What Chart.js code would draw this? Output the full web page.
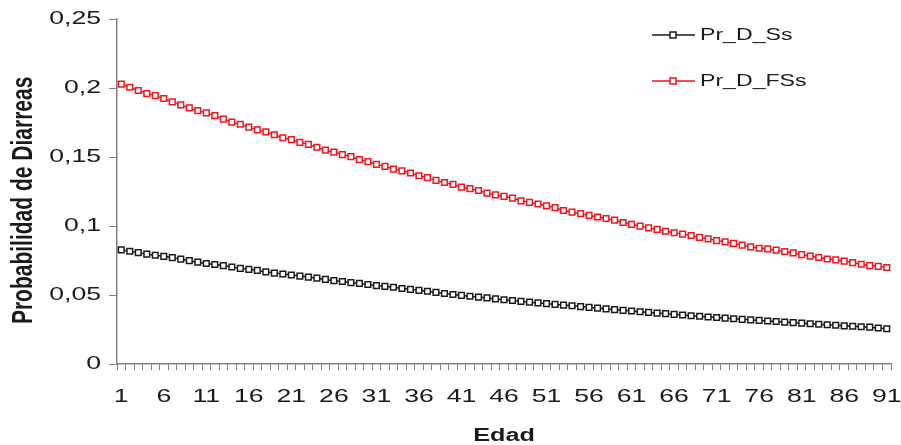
<!DOCTYPE html>
<html>
<head>
<meta charset="utf-8">
<script src="https://cdn.jsdelivr.net/npm/chart.js@4.4.1/dist/chart.umd.min.js"></script>
<style>
  html, body { margin: 0; padding: 0; background: #fff; }
  canvas { display: block; }
</style>
</head>
<body>
<canvas id="myChart" width="901" height="445"></canvas>
<script>
// Edad 1..91
const edades = [
  1, 2, 3, 4, 5, 6, 7, 8, 9, 10,
  11, 12, 13, 14, 15, 16, 17, 18, 19, 20,
  21, 22, 23, 24, 25, 26, 27, 28, 29, 30,
  31, 32, 33, 34, 35, 36, 37, 38, 39, 40,
  41, 42, 43, 44, 45, 46, 47, 48, 49, 50,
  51, 52, 53, 54, 55, 56, 57, 58, 59, 60,
  61, 62, 63, 64, 65, 66, 67, 68, 69, 70,
  71, 72, 73, 74, 75, 76, 77, 78, 79, 80,
  81, 82, 83, 84, 85, 86, 87, 88, 89, 90,
  91
];

// Pr_D_Ss (black)
const prDSs = [
  0.0828, 0.0818, 0.0808, 0.0797, 0.0789, 0.0781, 0.0772, 0.0761, 0.0750, 0.0739,
  0.0729, 0.0722, 0.0714, 0.0704, 0.0694, 0.0687, 0.0679, 0.0669, 0.0660, 0.0653,
  0.0646, 0.0638, 0.0631, 0.0623, 0.0614, 0.0605, 0.0599, 0.0591, 0.0585, 0.0577,
  0.0569, 0.0564, 0.0557, 0.0548, 0.0542, 0.0535, 0.0528, 0.0520, 0.0512, 0.0505,
  0.0498, 0.0492, 0.0486, 0.0480, 0.0473, 0.0467, 0.0461, 0.0455, 0.0449, 0.0444,
  0.0439, 0.0433, 0.0428, 0.0423, 0.0417, 0.0412, 0.0406, 0.0401, 0.0395, 0.0390,
  0.0385, 0.0380, 0.0375, 0.0370, 0.0366, 0.0361, 0.0356, 0.0351, 0.0347, 0.0342,
  0.0338, 0.0334, 0.0329, 0.0325, 0.0321, 0.0317, 0.0313, 0.0309, 0.0305, 0.0301,
  0.0297, 0.0293, 0.0289, 0.0286, 0.0282, 0.0278, 0.0275, 0.0271, 0.0268, 0.0262,
  0.0257
];

// Pr_D_FSs (red)
const prDFSs = [
  0.2028, 0.2006, 0.1982, 0.1960, 0.1945, 0.1924, 0.1900, 0.1878, 0.1856, 0.1836,
  0.1820, 0.1800, 0.1775, 0.1753, 0.1738, 0.1717, 0.1697, 0.1682, 0.1662, 0.1640,
  0.1626, 0.1607, 0.1592, 0.1571, 0.1550, 0.1536, 0.1518, 0.1503, 0.1482, 0.1467,
  0.1447, 0.1433, 0.1413, 0.1400, 0.1385, 0.1365, 0.1351, 0.1331, 0.1316, 0.1302,
  0.1282, 0.1271, 0.1258, 0.1239, 0.1226, 0.1215, 0.1203, 0.1183, 0.1172, 0.1160,
  0.1147, 0.1134, 0.1113, 0.1101, 0.1090, 0.1078, 0.1066, 0.1055, 0.1043, 0.1026,
  0.1013, 0.1000, 0.0987, 0.0976, 0.0963, 0.0952, 0.0942, 0.0932, 0.0918, 0.0908,
  0.0895, 0.0886, 0.0875, 0.0862, 0.0850, 0.0840, 0.0835, 0.0826, 0.0816, 0.0806,
  0.0793, 0.0783, 0.0773, 0.0762, 0.0755, 0.0746, 0.0736, 0.0724, 0.0714, 0.0709,
  0.0700
];

const yTicks = [0, 0.05, 0.1, 0.15, 0.2, 0.25];

const FONT = '"Liberation Sans", Arial, sans-serif';
const TEXT = '#1a1a1a';
const AXIS = '#808080';

// the original picture is stretched sideways, so its text is wide too:
// widen every glyph horizontally around its anchor point
const SX = 1.4;
const rawFillText = CanvasRenderingContext2D.prototype.fillText;
CanvasRenderingContext2D.prototype.fillText = function (text, x, y, maxWidth) {
  const T = this.getTransform();
  const p = T.transformPoint(new DOMPoint(x, y));
  this.save();
  this.setTransform(new DOMMatrix().translate(p.x, p.y).scale(SX, 1).translate(-p.x, -p.y).multiply(T));
  if (maxWidth === undefined) rawFillText.call(this, text, x, y);
  else rawFillText.call(this, text, x, y, maxWidth * SX);
  this.restore();
};

// legend drawn inside plot, top-right, like the original
const cornerLegend = {
  id: 'cornerLegend',
  afterDraw(chart) {
    const ctx = chart.ctx;
    const rows = [35, 81];
    ctx.save();
    chart.data.datasets.forEach((ds, i) => {
      const y = rows[i];
      ctx.strokeStyle = ds.borderColor;
      ctx.lineWidth = 1.5;
      ctx.beginPath();
      ctx.moveTo(652, y);
      ctx.lineTo(695, y);
      ctx.stroke();
      ctx.fillStyle = '#fff';
      ctx.fillRect(670, y - 3, 6, 6);
      ctx.strokeRect(670, y - 3, 6, 6);
      ctx.fillStyle = TEXT;
      ctx.font = '16.5px ' + FONT;
      ctx.textBaseline = 'middle';
      ctx.textAlign = 'left';
      ctx.fillText(ds.label, 700, y);
    });
    ctx.restore();
  }
};

const fmt = v => String(Math.round(v * 100) / 100).replace('.', ',');

new Chart(document.getElementById('myChart'), {
  type: 'line',
  data: {
    labels: edades,
    datasets: [
      {
        label: 'Pr_D_Ss',
        data: prDSs,
        borderColor: '#1a1a1a',
        backgroundColor: '#ffffff',
        borderWidth: 1.5,
        pointStyle: 'rect',
        pointRadius: 4,
        pointBorderWidth: 1.5,
        pointBackgroundColor: '#ffffff',
        pointBorderColor: '#1a1a1a'
      },
      {
        label: 'Pr_D_FSs',
        data: prDFSs,
        borderColor: '#f0141e',
        backgroundColor: '#ffffff',
        borderWidth: 1.5,
        pointStyle: 'rect',
        pointRadius: 4,
        pointBorderWidth: 1.5,
        pointBackgroundColor: '#ffffff',
        pointBorderColor: '#f0141e'
      }
    ]
  },
  options: {
    responsive: false,
    animation: false,
    devicePixelRatio: 1,
    layout: { padding: { left: 0, right: 10, top: 19, bottom: 0 } },
    plugins: {
      legend: { display: false },
      tooltip: { enabled: false }
    },
    scales: {
      x: {
        type: 'category',
        offset: true,
        afterFit: scale => { scale.paddingLeft = 0; scale.paddingRight = 0; },
        grid: {
          offset: true,
          drawOnChartArea: false,
          drawTicks: true,
          tickLength: 6,
          color: AXIS
        },
        border: { display: true, color: AXIS, width: 1.5 },
        ticks: {
          autoSkip: false,
          maxRotation: 0,
          minRotation: 0,
          padding: 15,
          color: TEXT,
          font: { family: FONT, size: 19 },
          callback: function (val, idx) {
            return idx % 5 === 0 ? String(edades[idx]) : '';
          }
        },
        title: {
          display: true,
          text: 'Edad',
          color: TEXT,
          font: { family: FONT, size: 18, weight: 'bold', lineHeight: 1 },
          padding: { top: 4, bottom: 0 }
        }
      },
      y: {
        min: 0,
        max: 0.25,
        afterBuildTicks: scale => {
          scale.ticks = yTicks.map(v => ({ value: v }));
        },
        afterFit: scale => {
          scale.width = 117;
          scale.paddingTop = 0;
          scale.paddingBottom = 0;
        },
        grid: {
          drawOnChartArea: false,
          drawTicks: true,
          tickLength: 8,
          color: AXIS
        },
        border: { display: true, color: AXIS, width: 1.5 },
        ticks: {
          padding: 8,
          color: TEXT,
          font: { family: FONT, size: 19 },
          callback: v => fmt(v)
        },
        title: {
          display: true,
          text: 'Probabilidad de Diarreas   ',
          color: TEXT,
          font: { family: FONT, size: 21, weight: 'bold' },
          padding: { top: 11, bottom: 0 }
        }
      }
    }
  },
  plugins: [cornerLegend]
});
</script>
</body>
</html>
